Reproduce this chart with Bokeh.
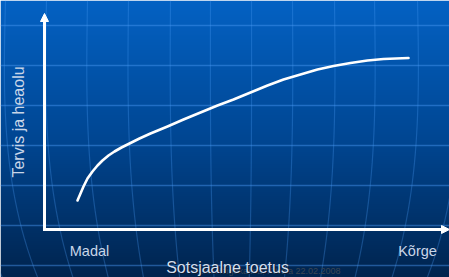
import numpy as np
from bokeh.plotting import figure
from bokeh.models import Range1d, Label, Arrow, NormalHead, FixedTicker
from bokeh.embed import file_html
from bokeh.resources import INLINE

# ---- chart data (social support vs. health & wellbeing) ----
support = [33, 36, 39, 43, 48, 53, 58, 64, 70, 77, 85, 95, 106, 123, 139, 156,
           173, 189, 206, 223, 239, 256, 273, 289, 306, 323, 339, 364]
wellbeing = [29, 36, 43, 51, 58, 64, 69, 74, 78, 82, 86, 91, 96, 103, 110, 117,
             124, 130, 137, 144, 150, 155, 160, 163.5, 166.5, 169, 170.5, 171.5]
tick_positions = [45, 373]
tick_labels = ["Madal", "Kõrge"]
x_title = "Sotsjaalne toetus"
y_title = "Tervis ja heaolu"
footer = "Eesti Haigekassa, Kärdla  22.02.2008"

W, H = 449, 277
X0, X1 = -44, 405
Y0, Y1 = -48, 229

p = figure(width=W, height=H, output_backend="svg", toolbar_location=None,
           x_range=Range1d(X0, X1), y_range=Range1d(Y0, Y1), min_border=0)
p.outline_line_color = None
p.xaxis.visible = False
p.yaxis.visible = False
p.xgrid.visible = False
p.border_fill_color = "#003c80"

# ---- background gradient ----
n = 277
ref_y = np.arange(n)[::-1] + 0.5  # row 0 = bottom
stops_y = [0, 140, 277]
stops_c = np.array([[4, 98, 196], [0, 70, 146], [0, 36, 78]], dtype=float)
rgb = np.stack([np.interp(ref_y, stops_y, stops_c[:, k]) for k in range(3)], axis=1)
img = np.zeros((n, 2), dtype=np.uint32)
view = img.view(dtype=np.uint8).reshape((n, 2, 4))
for j in range(2):
    view[:, j, 0] = rgb[:, 0]
    view[:, j, 1] = rgb[:, 1]
    view[:, j, 2] = rgb[:, 2]
    view[:, j, 3] = 255
p.image_rgba(image=[img], x=X0, y=Y0, dw=X1 - X0, dh=Y1 - Y0, level="image")

# ---- globe-like decoration ----
p.ygrid.ticker = FixedTicker(ticks=[204, 164, 124, 84, 44, 4, -36])
p.ygrid.grid_line_color = "#4a9af5"
p.ygrid.grid_line_alpha = 0.45
p.ygrid.grid_line_width = 1.5

tops = [-36, 5, 46, 87, 128, 170, 210, 251, 292, 334, 374, 417, 458]
t = np.linspace(0, 1, 30)
xs, ys = [], []
for xt in tops:
    f = 0.03 * t - 0.17 * t ** 3
    xr = xt + (xt - 235) * f
    xs.append(list(xr - 44))
    ys.append(list(229 - t * 277))
p.multi_line(xs=xs, ys=ys, line_color="#4a9af5", line_alpha=0.3, line_width=1.2)

# ---- axes ----
head = dict(fill_color="white", line_color="white", line_width=1)
p.add_layout(Arrow(end=NormalHead(size=8, **head),
                   x_start=0, y_start=-1.5, x_end=0, y_end=216,
                   line_color="white", line_width=3))
p.add_layout(Arrow(end=NormalHead(size=8, **head),
                   x_start=-1.5, y_start=0, x_end=405, y_end=0,
                   line_color="white", line_width=3))

# ---- curve ----
p.line(support, wellbeing, line_color="white", line_width=2.6, line_cap="round", line_join="round")

# ---- texts ----
font = "Liberation Sans"
lab_col = "#c9d6e8"
for xv, tx in zip(tick_positions, tick_labels):
    p.add_layout(Label(x=xv, y=-21, text=tx, text_align="center", text_baseline="alphabetic",
                       text_font=font, text_font_size="14.5px", text_color=lab_col))

p.add_layout(Label(x=-26.5, y=107.5, text=y_title, angle=np.pi / 2, text_align="center",
                   text_baseline="middle", text_font=font, text_font_size="16px",
                   text_color=lab_col))

p.add_layout(Label(x=148, y=-41, text=footer, text_align="left", text_baseline="alphabetic",
                   text_font=font, text_font_size="9px", text_color="#3c4652"))

p.add_layout(Label(x=183, y=-37.5, x_offset=1, y_offset=-1, text=x_title, text_align="center",
                   text_baseline="alphabetic", text_font=font, text_font_size="16px",
                   text_color="#0b1a33"))
p.add_layout(Label(x=183, y=-37.5, text=x_title, text_align="center",
                   text_baseline="alphabetic", text_font=font, text_font_size="16px",
                   text_color="#d3deec"))

open("out.html", "w").write(file_html(p, INLINE))
